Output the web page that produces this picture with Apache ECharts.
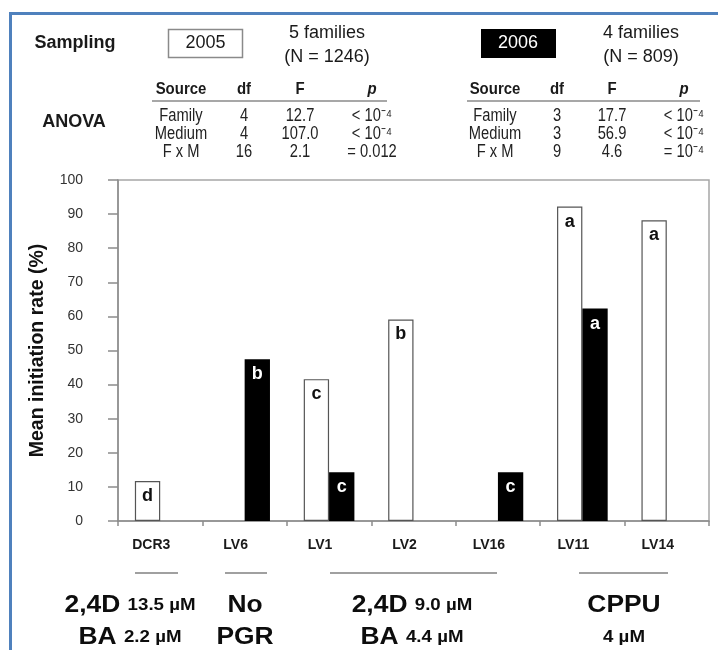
<!DOCTYPE html>
<html><head><meta charset="utf-8">
<script src="https://cdn.jsdelivr.net/npm/echarts@6/dist/echarts.min.js"></script>
<style>html,body{margin:0;padding:0;background:#fff}#c{width:718px;height:650px}</style>
</head><body><div id="c"></div>
<script>
// ---- data ----
const categories = ['DCR3', 'LV6', 'LV1', 'LV2', 'LV16', 'LV11', 'LV14'];
const rate2005 = [11.7, null, 41.6, 59.1, null, 92.2, 88.2];
const rate2006 = [null, 47.4, 14.3, null, 14.3, 62.3, null];
const letters2005 = ['d', '', 'c', 'b', '', 'a', 'a'];
const letters2006 = ['', 'b', 'c', '', 'c', 'a', ''];
const yMin = 0, yMax = 100, yStep = 10;
const anovaHeader = ['Source', 'df', 'F', 'p'];
const anova2005 = [
  ['Family', '4', '12.7', '< 10⁻⁴'],
  ['Medium', '4', '107.0', '< 10⁻⁴'],
  ['F x M', '16', '2.1', '= 0.012']
];
const anova2006 = [
  ['Family', '3', '17.7', '< 10⁻⁴'],
  ['Medium', '3', '56.9', '< 10⁻⁴'],
  ['F x M', '9', '4.6', '= 10⁻⁴']
];
const sampling = [
  { year: '2005', families: '5 families', n: '(N = 1246)' },
  { year: '2006', families: '4 families', n: '(N = 809)' }
];
const treatmentLines = [
  ['{b|2,4D} {s|13.5 µM}', '{b|BA} {s|2.2 µM}'],
  ['{b|No}', '{b|PGR}'],
  ['{b|2,4D} {s|9.0 µM}', '{b|BA} {s|4.4 µM}'],
  ['{b|CPPU}', '{s|4 µM}']
];

// ---- layout (pixels) ----
const FONT = 'Liberation Sans, Arial, Helvetica, sans-serif';
function txt(x, y, text, o) {
  o = o || {};
  return {
    type: 'text', x: x, y: y, z: 50,
    scaleX: o.scaleX || 1,
    style: {
      text: text,
      fontFamily: FONT,
      fontSize: o.size || 16,
      fontWeight: o.weight || 'normal',
      fontStyle: o.style || 'normal',
      fill: o.fill || '#1a1a1a',
      align: o.align || 'center', verticalAlign: 'middle',
      textAlign: o.align || 'center', textVerticalAlign: 'middle',
      rich: o.rich
    }
  };
}
const g = [];
// blue frame
g.push({ type: 'line', z: 60, shape: { x1: 10.5, y1: 13, x2: 10.5, y2: 650 }, style: { stroke: '#4f81bd', lineWidth: 3 } });
g.push({ type: 'line', z: 60, shape: { x1: 9, y1: 13.5, x2: 718, y2: 13.5 }, style: { stroke: '#4f81bd', lineWidth: 3 } });
// sampling header
g.push(txt(75, 43, 'Sampling', { size: 18, weight: 'bold' }));
g.push({ type: 'rect', z: 40, shape: { x: 168.5, y: 29.5, width: 74, height: 28 }, style: { fill: '#fff', stroke: '#8a8a8a', lineWidth: 1.5 } });
g.push(txt(205.5, 43.5, sampling[0].year, { size: 18 }));
g.push(txt(327, 33, sampling[0].families, { size: 18 }));
g.push(txt(327, 57, sampling[0].n, { size: 18 }));
g.push({ type: 'rect', z: 40, shape: { x: 481, y: 29, width: 75, height: 29 }, style: { fill: '#000' } });
g.push(txt(518, 43.5, sampling[1].year, { size: 18, fill: '#fff' }));
g.push(txt(641, 33, sampling[1].families, { size: 18 }));
g.push(txt(641, 57, sampling[1].n, { size: 18 }));
// ANOVA
g.push(txt(74, 122, 'ANOVA', { size: 18, weight: 'bold' }));
const colX = [[181, 244, 300, 372], [495, 557, 612, 684]];
const lineX = [[152, 387], [467, 700]];
const rowY = [116.5, 134.5, 152.5];
[anova2005, anova2006].forEach(function (tbl, t) {
  anovaHeader.forEach(function (h, c) {
    g.push(txt(colX[t][c], 89, h, { size: 17, weight: 'bold', style: c === 3 ? 'italic' : 'normal', scaleX: 0.88 }));
  });
  g.push({ type: 'line', z: 40, shape: { x1: lineX[t][0], y1: 101, x2: lineX[t][1], y2: 101 }, style: { stroke: '#8a8a8a', lineWidth: 1.5 } });
  tbl.forEach(function (row, r) {
    row.forEach(function (cell, c) {
      g.push(txt(colX[t][c], rowY[r], cell, { size: 17.5, scaleX: 0.84, fill: '#222' }));
    });
  });
});
// treatment groups under the axis
const groupSpan = [[135, 178], [225, 267], [330, 497], [579, 668]];
const groupCx = [130, 245, 412, 624];
const richT = {
  b: { fontFamily: FONT, fontSize: 24, fontWeight: 'bold', fill: '#0d0d0d' },
  s: { fontFamily: FONT, fontSize: 17, fontWeight: 'bold', fill: '#0d0d0d' }
};
groupSpan.forEach(function (s, i) {
  g.push({ type: 'line', z: 40, shape: { x1: s[0], y1: 573, x2: s[1], y2: 573 }, style: { stroke: '#808080', lineWidth: 1.5 } });
  g.push(txt(groupCx[i], 605, treatmentLines[i][0], { rich: richT, scaleX: 1.1, size: 24, weight: 'bold' }));
  g.push(txt(groupCx[i], 637, treatmentLines[i][1], { rich: richT, scaleX: 1.1, size: 24, weight: 'bold' }));
});

const chart = echarts.init(document.getElementById('c'), null, { renderer: 'canvas' });
const barLabel = function (letters, color) {
  return {
    show: true, position: 'insideTop', distance: 6,
    fontFamily: FONT, fontSize: 18, fontWeight: 'bold', color: color,
    formatter: function (p) { return letters[p.dataIndex]; }
  };
};
chart.setOption({
  animation: false,
  backgroundColor: '#fff',
  grid: { left: 118, right: 9, top: 180, bottom: 129, show: true, borderColor: '#a6a6a6', borderWidth: 1.5, containLabel: false },
  xAxis: {
    type: 'category', data: categories,
    axisLine: { lineStyle: { color: '#8c8c8c', width: 1.5 } },
    axisTick: { show: true, length: 5, lineStyle: { color: '#8c8c8c', width: 1.5 } },
    axisLabel: { margin: 17, fontFamily: FONT, fontSize: 14, fontWeight: 'bold', color: '#1a1a1a', padding: [0, 18, 0, 0] },
    splitLine: { show: false }
  },
  yAxis: {
    type: 'value', min: yMin, max: yMax, interval: yStep,
    name: 'Mean initiation rate (%)', nameLocation: 'middle', nameGap: 70,
    nameTextStyle: { fontFamily: FONT, fontSize: 19.5, fontWeight: 'bold', color: '#111' },
    axisLine: { show: true, lineStyle: { color: '#8c8c8c', width: 1.5 } },
    axisTick: { show: true, length: 10, lineStyle: { color: '#8c8c8c', width: 1.5 } },
    axisLabel: { margin: 35, fontFamily: FONT, fontSize: 14, color: '#333' },
    splitLine: { show: false }
  },
  series: [
    {
      name: '2005', type: 'bar', data: rate2005, barGap: '0%', barCategoryGap: '40%',
      itemStyle: { color: '#fff', borderColor: '#555', borderWidth: 1.2 },
      label: barLabel(letters2005, '#111')
    },
    {
      name: '2006', type: 'bar', data: rate2006, barGap: '0%', barCategoryGap: '40%',
      itemStyle: { color: '#000' },
      label: barLabel(letters2006, '#fff')
    }
  ],
  graphic: g
});
</script>
</body></html>
